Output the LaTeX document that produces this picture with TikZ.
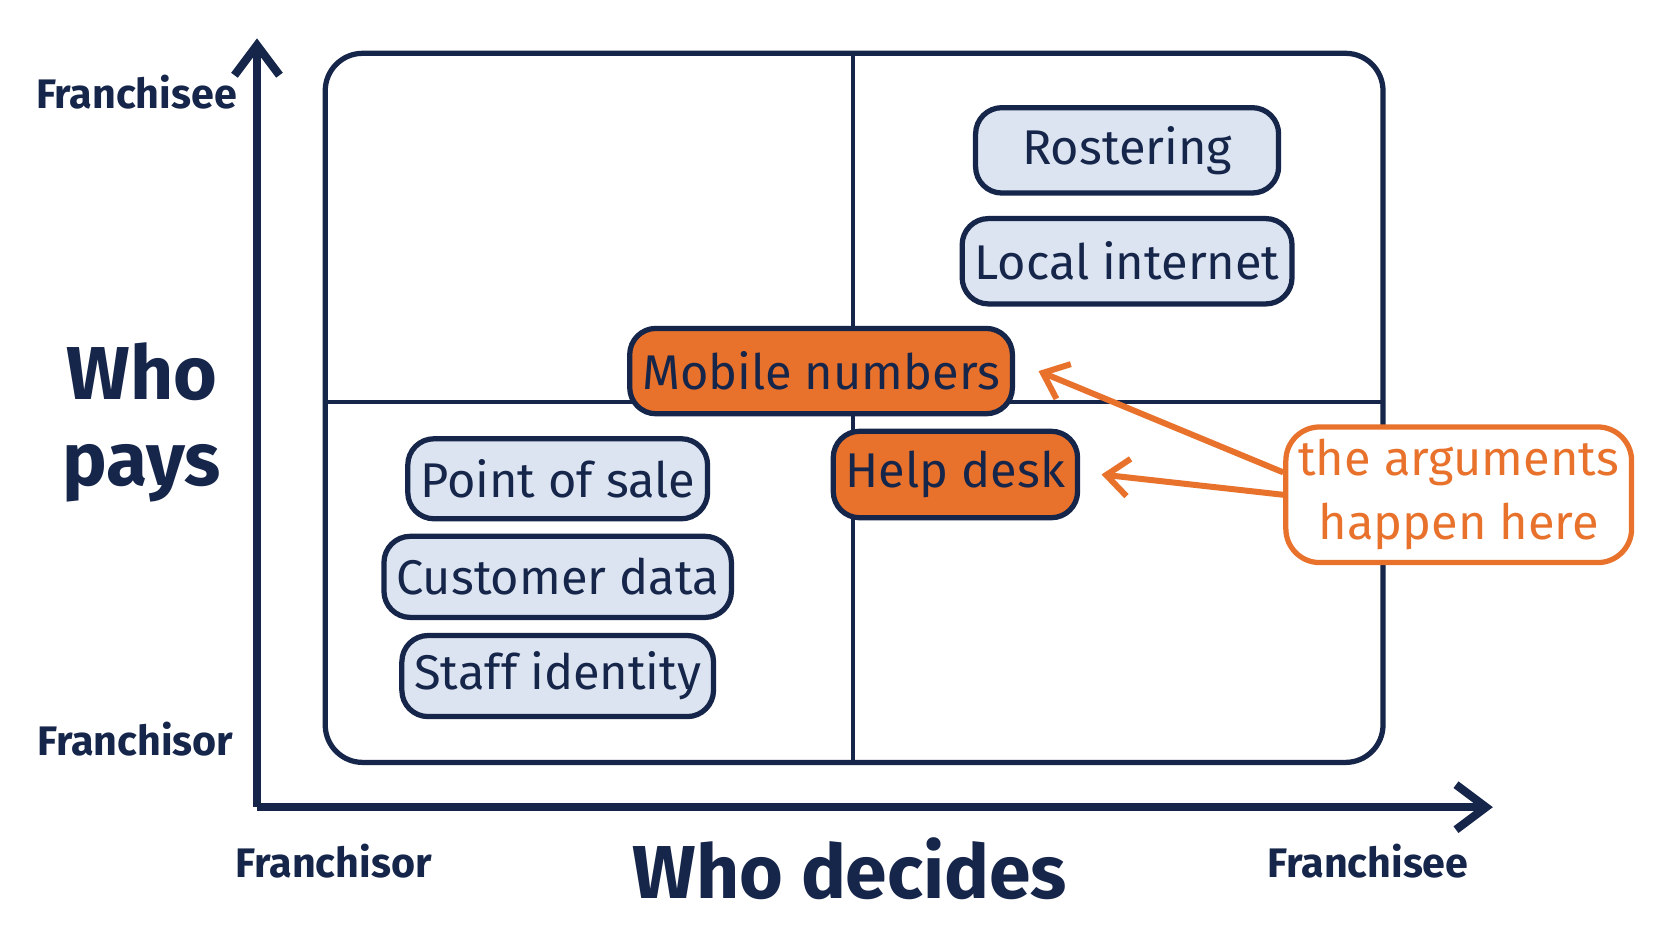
\documentclass[tikz,border=0pt]{standalone}
\usepackage{fontspec}
\setmainfont{Fira Sans}
\usetikzlibrary{arrows.meta}
\definecolor{navy}{HTML}{16254A}
\definecolor{lightb}{HTML}{DBE4F0}
\definecolor{orng}{HTML}{E8722C}
\tikzset{
 px/.style={x=0.01cm,y=-0.01cm},
 item/.style={draw=navy,line width=1.4pt,rounded corners=7pt,fill=lightb,text=navy,font=\fontsize{13}{15}\selectfont},
 hot/.style={item,fill=orng},
 lbl/.style={text=navy,font=\fontsize{11}{13}\selectfont\bfseries},
}
\begin{document}
\begin{tikzpicture}[px]
\useasboundingbox (0,0) rectangle (1568,882);
\fill[white] (0,0) rectangle (1568,882);
\draw[navy,line width=1.4pt,rounded corners=10pt] (305,50) rectangle (1297,715);
\coordinate (vt) at (800,50); \coordinate (vb) at (800,715);
\coordinate (hl) at (305,377); \coordinate (hr) at (1297,377);
\draw[navy,line width=1.2pt] (vt)--(vb) (hl)--(hr);
\coordinate (o) at (241,757); \coordinate (yt) at (241,36); \coordinate (xr) at (1400,757);
\draw[navy,line width=2.2pt,-{Straight Barb[length=8pt,width=12pt]}] (o)--(yt);
\draw[navy,line width=2.2pt,-{Straight Barb[length=8pt,width=12pt]}] (o)--(xr);
\node[item,minimum width=2.84cm,minimum height=0.8cm] (ros) at (1057,141) {Rostering};
\node[item,minimum width=2.84cm,minimum height=0.8cm] (li) at (1057,245) {Local internet};
\node[item,minimum width=2.61cm,minimum height=0.75cm] (pos) at (523,449) {Point of sale};
\node[item,minimum width=2.61cm,minimum height=0.76cm] (cd) at (523,541) {Customer data};
\node[item,minimum width=2.61cm,minimum height=0.76cm] (si) at (523,634) {Staff identity};
\node[hot,minimum width=2.58cm,minimum height=0.8cm] (mn) at (770,348) {Mobile numbers};
\node[hot,minimum width=2.1cm,minimum height=0.81cm] (hd) at (896,445) {Help desk};
\node[draw=orng,line width=1.4pt,rounded corners=9pt,fill=white,minimum width=2.58cm,minimum height=1.13cm,align=center,text=orng,font=\fontsize{13}{17}\selectfont] (call) at (1368,464) {the arguments\\happen here};
\draw[orng,line width=1.6pt,-{Straight Barb[length=6pt,width=10pt]}] (call.west|-0,443)--([xshift=0.22cm]mn.east);
\draw[orng,line width=1.6pt,-{Straight Barb[length=6pt,width=10pt]}] (call.west|-0,464)--([xshift=0.2cm]hd.east);
\node[lbl] (fy) at (128,86) {Franchisee};
\node[lbl] (fo) at (127,693) {Franchisor};
\node[text=navy,font=\fontsize{20}{23}\selectfont\bfseries,align=center] (wp) at (133,396) {Who\\pays};
\node[lbl] (fx) at (313,808) {Franchisor};
\node[lbl] (fx2) at (1283,808) {Franchisee};
\node[text=navy,font=\fontsize{20}{23}\selectfont\bfseries] (wd) at (797,815) {Who decides};
\end{tikzpicture}
\end{document}
